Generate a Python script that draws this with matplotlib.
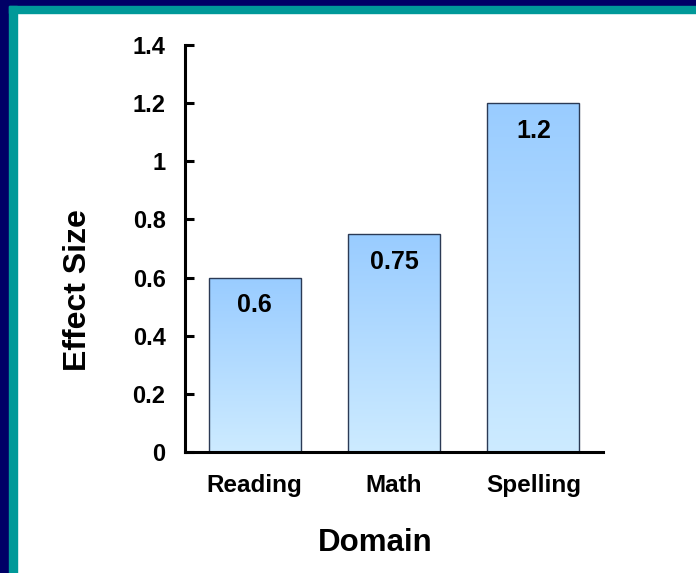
import numpy as np
import matplotlib
matplotlib.use("Agg")
import matplotlib.pyplot as plt
from matplotlib.patches import Rectangle
from matplotlib.colors import LinearSegmentedColormap

plt.rcParams['font.family'] = ['Liberation Sans', 'DejaVu Sans']
plt.rcParams['font.weight'] = 'bold'

domains = ['Reading', 'Math', 'Spelling']
effect_sizes = [0.6, 0.75, 1.2]
value_labels = ['0.6', '0.75', '1.2']
yticks = [0, 0.2, 0.4, 0.6, 0.8, 1.0, 1.2, 1.4]
ytick_labels = ['0', '0.2', '0.4', '0.6', '0.8', '1', '1.2', '1.4']

W, H = 696, 573
fig = plt.figure(figsize=(W / 100, H / 100), dpi=100)
fig.patch.set_facecolor('white')

# slide frame: navy outer strip, teal inner strip
def px_rect(x, y, w, h, color):
    fig.patches.append(Rectangle((x / W, 1 - (y + h) / H), w / W, h / H,
                                 transform=fig.transFigure, color=color,
                                 zorder=0))

px_rect(0, 0, 9, H, '#000066')
px_rect(0, 0, W, 6, '#000066')
px_rect(9, 6, 8, H - 6, '#009999')
px_rect(9, 6, W - 9, 7, '#009999')

ax = fig.add_axes([185 / W, 1 - 452 / H, (603 - 185) / W, (452 - 45) / H])
ax.set_facecolor('none')

x = np.arange(len(domains))
bars = ax.bar(x, effect_sizes, width=0.66, facecolor='none',
              edgecolor='#2b3a55', linewidth=1.0, zorder=3)

# vertical blue gradient inside each bar
cmap = LinearSegmentedColormap.from_list('bluefade', ['#cdebff', '#99ccff'])
grad = np.linspace(0, 1, 256).reshape(-1, 1)
for b in bars:
    x0, w, h = b.get_x(), b.get_width(), b.get_height()
    im = ax.imshow(grad, cmap=cmap, aspect='auto', origin='lower',
                   extent=(x0, x0 + w, 0, h), zorder=2)
    im.set_clip_path(b)

for xi, v, lab in zip(x, effect_sizes, value_labels):
    ax.annotate(lab, (xi, v), xytext=(0, -20), textcoords='offset points',
                ha='center', va='center', fontsize=18, fontweight='bold',
                zorder=4)

ax.set_xlim(-0.5, 2.5)
ax.set_ylim(0, 1.4)
ax.set_yticks(yticks)
ax.set_yticklabels(ytick_labels)
ax.set_xticks(x)
ax.set_xticklabels(domains)

for s in ['top', 'right']:
    ax.spines[s].set_visible(False)
for s in ['left', 'bottom']:
    ax.spines[s].set_linewidth(2.2)
    ax.spines[s].set_zorder(5)

ax.tick_params(axis='y', direction='in', length=6.5, width=2.2,
               labelsize=17, pad=14)
ax.tick_params(axis='x', length=0, labelsize=17.5, pad=16)

ax.set_ylabel('Effect Size', fontsize=23, fontweight='bold')
ax.set_xlabel('Domain', fontsize=22.5, fontweight='bold')
ax.yaxis.set_label_coords(-0.257, 0.398)
ax.xaxis.set_label_coords(0.4545, -0.224)
ax.yaxis.label.set_va('center')
ax.xaxis.label.set_va('center')

fig.savefig('out.png', dpi=100)
